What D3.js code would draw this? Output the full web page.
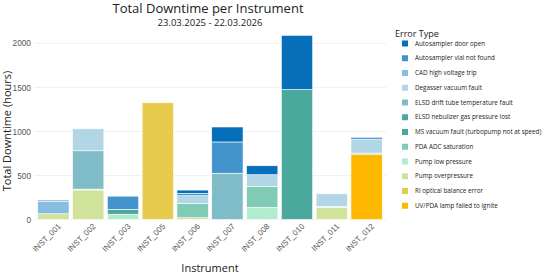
<!DOCTYPE html>
<html>
<head>
<meta charset="utf-8">
<script src="https://cdn.jsdelivr.net/npm/d3@7"></script>
<style>
  body { margin: 0; background: #fff; }
  svg { font-family: "Open Sans", "DejaVu Sans", sans-serif; }
</style>
</head>
<body>
<div class="chart"></div>
<script>
var instruments = ["INST_001","INST_002","INST_003","INST_005","INST_006","INST_007","INST_008","INST_010","INST_011","INST_012"];

// legend order (top of stack first)
var errorTypes = [
  "Autosampler door open",
  "Autosampler vial not found",
  "CAD high voltage trip",
  "Degasser vacuum fault",
  "ELSD drift tube temperature fault",
  "ELSD nebulizer gas pressure lost",
  "MS vacuum fault (turbopump not at speed)",
  "PDA ADC saturation",
  "Pump low pressure",
  "Pump overpressure",
  "RI optical balance error",
  "UV/PDA lamp failed to ignite"
];
var errorColors = ["#0570b9","#4393cc","#86bde0","#b3d6e7","#80bcc8","#4fa7a4","#4aa89c","#80cbb5","#b2ebcd","#d1e39a","#e6cb4c","#ffb800"];

// hours per error type, one value per instrument
var doorOpen      = [0,   0,   0,   0,    37, 170, 102, 615, 0,   18];
var vialNotFound  = [15,  0,   150, 0,    27, 355, 0,   0,   0,   0];
var cadTrip       = [140, 0,   0,   0,    0,  0,   0,   0,   0,   0];
var degasser      = [0,   250, 0,   0,    87, 0,   132, 0,   142, 160];
var elsdDrift     = [0,   435, 0,   0,    0,  525, 0,   0,   0,   0];
var elsdNebulizer = [0,   0,   0,   0,    0,  0,   0,   0,   0,   0];
var msVacuum      = [0,   0,   55,  0,    0,  0,   0,   1475,0,   0];
var pdaAdc        = [0,   0,   0,   0,    163,0,   238, 0,   0,   12];
var pumpLow       = [0,   10,  60,  0,    0,  0,   138, 0,   15,  0];
var pumpOver      = [65,  335, 0,   0,    20, 0,   0,   0,   135, 0];
var riBalance     = [0,   0,   0,   1325, 0,  0,   0,   0,   0,   0];
var uvLamp        = [0,   0,   0,   0,    0,  0,   0,   0,   0,   742];

var seriesValues = [doorOpen, vialNotFound, cadTrip, degasser, elsdDrift, elsdNebulizer,
                    msVacuum, pdaAdc, pumpLow, pumpOver, riBalance, uvLamp];
var yTicks = [0, 500, 1000, 1500, 2000];

var width = 545, height = 277;

// table rows: one per instrument
var table = instruments.map(function(inst, i) {
    var row = {inst: inst};
    errorTypes.forEach(function(e, k) { row[e] = seriesValues[k][i]; });
    return row;
});

// stack from bottom: reverse of legend order
var stackKeys = errorTypes.slice().reverse();
var stacked = d3.stack().keys(stackKeys)(table);

var color = d3.scaleOrdinal().domain(errorTypes).range(errorColors);

var x = d3.scaleBand().domain(instruments).range([36, 384]).paddingInner(0.1).paddingOuter(0.05);
var y = d3.scaleLinear().domain([0, 2000]).range([219.5, 43.3]);

var svg = d3.select(".chart").append("svg")
    .attr("width", width)
    .attr("height", height);

// grid
svg.append("g").selectAll("line")
    .data(yTicks)
    .enter().append("line")
    .attr("x1", 34).attr("x2", 386)
    .attr("y1", function(d) { return y(d); })
    .attr("y2", function(d) { return y(d); })
    .attr("stroke", "#f0f0f0")
    .attr("stroke-width", 1);

var yAxis = svg.append("g")
    .attr("transform", "translate(33,0)")
    .call(d3.axisLeft(y).tickValues(yTicks).tickFormat(d3.format("d")).tickSize(0).tickPadding(2));
yAxis.select(".domain").remove();
yAxis.selectAll("text").style("font-size", "8.3px").attr("fill", "#555");

// bars
var layers = svg.append("g").selectAll("g.layer")
    .data(stacked)
    .enter().append("g")
    .attr("class", "layer")
    .attr("fill", function(d) { return color(d.key); });

layers.selectAll("rect")
    .data(function(d) { return d.filter(function(p) { return p[1] - p[0] > 0; }); })
    .enter().append("rect")
    .attr("x", function(d) { return x(d.data.inst); })
    .attr("width", x.bandwidth())
    .attr("y", function(d) { return y(d[1]); })
    .attr("height", function(d) { return y(d[0]) - y(d[1]); })
    .attr("stroke", "#fff")
    .attr("stroke-width", 0.6);

// x axis
var xAxis = svg.append("g")
    .attr("transform", "translate(0,221)")
    .call(d3.axisBottom(x).tickSize(0).tickPadding(5));
xAxis.select(".domain").remove();
xAxis.selectAll("text")
    .style("font-size", "8px")
    .attr("fill", "#555")
    .style("text-anchor", "end")
    .attr("dx", "0.2em")
    .attr("dy", "0.6em")
    .attr("transform", "rotate(-45)");

// titles
svg.append("text")
    .attr("x", 208).attr("y", 12.5)
    .attr("text-anchor", "middle")
    .style("font-size", "13px")
    .attr("fill", "#222")
    .text("Total Downtime per Instrument");
svg.append("text")
    .attr("x", 210).attr("y", 25.5)
    .attr("text-anchor", "middle")
    .style("font-size", "9.5px")
    .attr("fill", "#222")
    .text("23.03.2025 - 22.03.2026");

svg.append("text")
    .attr("transform", "translate(11,131) rotate(-90)")
    .attr("text-anchor", "middle")
    .style("font-size", "11px")
    .attr("fill", "#222")
    .text("Total Downtime (hours)");

svg.append("text")
    .attr("x", 210).attr("y", 272)
    .attr("text-anchor", "middle")
    .style("font-size", "11px")
    .attr("fill", "#222")
    .text("Instrument");

// legend
var legend = svg.append("g").attr("transform", "translate(395,0)");
legend.append("text")
    .attr("x", 0).attr("y", 37)
    .style("font-size", "9px")
    .attr("fill", "#222")
    .text("Error Type");

var items = legend.selectAll("g.item")
    .data(errorTypes)
    .enter().append("g")
    .attr("class", "item")
    .attr("transform", function(d, i) { return "translate(0," + (43.5 + i * 14.75) + ")"; });
items.append("rect")
    .attr("x", 7).attr("y", -3)
    .attr("width", 6).attr("height", 6)
    .attr("fill", function(d) { return color(d); });
items.append("text")
    .attr("x", 20).attr("y", 0)
    .attr("dy", "0.35em")
    .style("font-size", "6.3px")
    .attr("fill", "#222")
    .text(String);
</script>
</body>
</html>
